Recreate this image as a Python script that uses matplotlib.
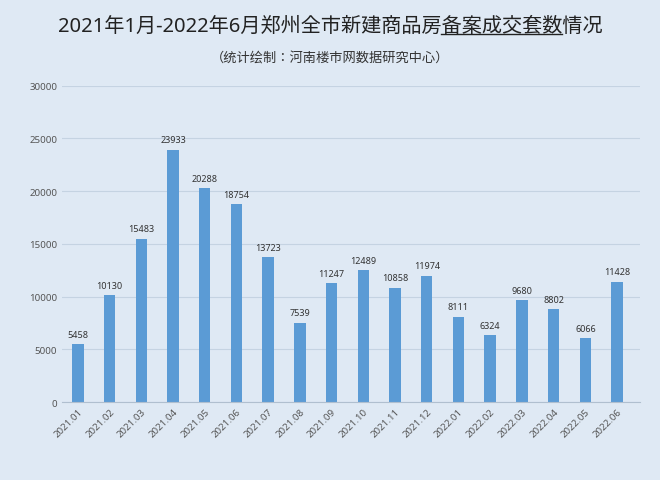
import matplotlib.pyplot as plt
from matplotlib import font_manager

names = {f.name for f in font_manager.fontManager.ttflist}
cjk = [n for n in ["Noto Sans CJK SC", "Noto Sans CJK JP", "Noto Sans CJK TC"] if n in names]
plt.rcParams["font.family"] = ["Noto Sans"] + cjk[:1] + ["DejaVu Sans"]

months = ["2021.01", "2021.02", "2021.03", "2021.04", "2021.05", "2021.06",
          "2021.07", "2021.08", "2021.09", "2021.10", "2021.11", "2021.12",
          "2022.01", "2022.02", "2022.03", "2022.04", "2022.05", "2022.06"]
sales = [5458, 10130, 15483, 23933, 20288, 18754, 13723, 7539, 11247,
         12489, 10858, 11974, 8111, 6324, 9680, 8802, 6066, 11428]
y_ticks = [0, 5000, 10000, 15000, 20000, 25000, 30000]

bg = "#dfe9f4"
fig = plt.figure(figsize=(6.6, 4.81), dpi=100, facecolor=bg)
ax = fig.add_axes([0.094, 0.162, 0.876, 0.658], facecolor=bg)

x = range(len(months))
ax.bar(x, sales, width=0.36, color="#5b9bd5", zorder=2)
for xi, v in zip(x, sales):
    ax.text(xi, v + 500, str(v), ha="center", va="bottom", fontsize=6.5, color="#333333")

ax.set_ylim(0, 30000)
ax.set_xlim(-0.5, 17.73)
ax.set_yticks(y_ticks)
ax.set_yticklabels([str(t) for t in y_ticks], fontsize=7, color="#555555")
ax.set_xticks(list(x))
ax.set_xticklabels(months, rotation=45, ha="right", rotation_mode="anchor",
                   fontsize=7, color="#555555")
ax.grid(True, axis="y", color="#c5d3e2", linewidth=0.8, zorder=0)
ax.tick_params(length=0)
for side in ["top", "right", "left"]:
    ax.spines[side].set_visible(False)
ax.spines["bottom"].set_color("#b0bfcf")

title = "2021年1月-2022年6月郑州全市新建商品房备案成交套数情况"
t = fig.text(0.5, 0.945, title, ha="center", va="center", fontsize=14.5, color="#222222")
fig.text(0.5, 0.878, "（统计绘制：河南楼市网数据研究中心）", ha="center", va="center",
         fontsize=9.5, color="#333333")

# underline the "备案成交套数" part of the title
fig.canvas.draw()
r = fig.canvas.get_renderer()
bb = t.get_window_extent(r)
pre = fig.text(0, 0, "2021年1月-2022年6月郑州全市新建商品房", fontsize=14.5)
seg = fig.text(0, 0, "备案成交套数", fontsize=14.5)
w_pre = pre.get_window_extent(r).width
w_seg = seg.get_window_extent(r).width
pre.remove()
seg.remove()
W, H = fig.bbox.width, fig.bbox.height
x0 = (bb.x0 + w_pre) / W
x1 = (bb.x0 + w_pre + w_seg) / W
yl = (bb.y0 + 1) / H
fig.add_artist(plt.Line2D([x0, x1], [yl, yl], color="#222222", linewidth=1))

fig.savefig("out.png", dpi=100, facecolor=bg)
